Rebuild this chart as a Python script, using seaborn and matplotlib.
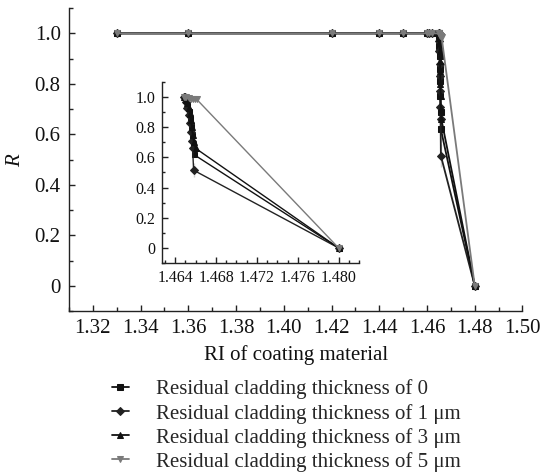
import matplotlib
matplotlib.use("Agg")
import matplotlib.pyplot as plt
import seaborn as sns
import pandas as pd
from matplotlib.ticker import MultipleLocator, FixedLocator

sns.set_theme(style="white")
plt.rcParams['font.family'] = ['Liberation Serif', 'DejaVu Serif']
plt.rcParams['mathtext.fontset'] = 'custom'
plt.rcParams['mathtext.it'] = 'Liberation Serif:italic'

# ---- data ----
ri_flat = [1.33, 1.36, 1.42, 1.44, 1.45, 1.46, 1.461, 1.462, 1.4649, 1.465]
r_flat = [1.0, 1.0, 1.0, 1.0, 1.0, 1.0, 1.0, 1.0, 1.0, 1.0]

ri_d0 = [1.4651, 1.4652, 1.4653, 1.4654, 1.4655, 1.4656, 1.4657, 1.4658, 1.48]
r_d0 = [0.98, 0.95, 0.91, 0.86, 0.81, 0.75, 0.69, 0.62, 0.0]

ri_d1 = [1.4651, 1.4652, 1.4653, 1.4654, 1.4655, 1.4656, 1.4657, 1.4658, 1.4658, 1.48]
r_d1 = [0.97, 0.93, 0.88, 0.83, 0.77, 0.71, 0.66, 0.56, 0.47, 0.0]

ri_d3 = [1.4651, 1.4652, 1.4653, 1.4654, 1.4655, 1.4656, 1.4657, 1.4658, 1.4660, 1.48]
r_d3 = [0.98, 0.96, 0.93, 0.89, 0.85, 0.80, 0.75, 0.70, 0.66, 0.0]

ri_d5 = [1.4651, 1.4653, 1.4655, 1.4657, 1.4659, 1.4661, 1.48]
r_d5 = [1.0, 0.995, 0.99, 0.99, 0.988, 0.985, 0.0]

labels = ["Residual cladding thickness of 0",
          "Residual cladding thickness of 1 μm",
          "Residual cladding thickness of 3 μm",
          "Residual cladding thickness of 5 μm"]
series_x = [ri_flat + ri_d0, ri_flat + ri_d1, ri_flat + ri_d3, ri_flat + ri_d5]
series_y = [r_flat + r_d0, r_flat + r_d1, r_flat + r_d3, r_flat + r_d5]

inset_min_ri = 1.4645

markers = ["s", "D", "^", "v"]
msizes = [4, 4, 5, 5]
colors = ["#111111", "#222222", "#111111", "#7a7a7a"]

fig = plt.figure(figsize=(5.5, 4.75), dpi=100)
ax = fig.add_axes([0.1255, 0.345, 0.8245, 0.638])
axin = fig.add_axes([0.2945, 0.4463, 0.3582, 0.3811])


def draw(a, ms_scale=1.0, lw=1.0, xmin=None):
    for xs, ys, lab, m, ms, c in zip(series_x, series_y, labels, markers, msizes, colors):
        df = pd.DataFrame({"RI": xs, "R": ys})
        if xmin is not None:
            df = df[df["RI"] >= xmin]
        sns.lineplot(data=df, x="RI", y="R", sort=False, ax=a, color=c,
                     marker=m, markersize=ms * ms_scale, markeredgecolor=c,
                     linewidth=lw, label=lab, legend=False)


draw(ax, lw=1.3)
draw(axin, 0.9, lw=1.0, xmin=inset_min_ri)

for a in (ax, axin):
    for s in ("top", "right"):
        a.spines[s].set_visible(False)
    for s in ("left", "bottom"):
        a.spines[s].set_color("#222222")
        a.spines[s].set_linewidth(1.0)
    a.set_xlabel("")
    a.set_ylabel("")

# main axes
ax.set_xlim(1.31, 1.50)
ax.set_ylim(-0.1, 1.1)
ax.xaxis.set_major_locator(FixedLocator([1.32 + 0.02 * i for i in range(10)]))
ax.set_xticklabels([f"{1.32 + 0.02 * i:.2f}" for i in range(10)])
ax.xaxis.set_minor_locator(MultipleLocator(0.01))
ax.yaxis.set_major_locator(FixedLocator([0, 0.2, 0.4, 0.6, 0.8, 1.0]))
ax.set_yticklabels(["0", "0.2", "0.4", "0.6", "0.8", "1.0"])
ax.yaxis.set_minor_locator(MultipleLocator(0.1))
ax.tick_params(which="both", direction="in", color="#222222", labelsize=15,
               bottom=True, left=True, labelcolor="#111111")
ax.tick_params(which="major", length=4, width=1, pad=6)
ax.tick_params(which="minor", length=3, width=1)
ax.set_xlabel("RI of coating material", fontsize=15, color="#111111", labelpad=5)
ax.set_ylabel("$R$", fontsize=15, color="#111111", labelpad=7)

# inset
axin.set_xlim(1.4627, 1.482)
axin.set_ylim(-0.1, 1.1)
axin.xaxis.set_major_locator(FixedLocator([1.464, 1.468, 1.472, 1.476, 1.480]))
axin.set_xticklabels(["1.464", "1.468", "1.472", "1.476", "1.480"])
axin.xaxis.set_minor_locator(MultipleLocator(0.001))
axin.yaxis.set_major_locator(FixedLocator([0, 0.2, 0.4, 0.6, 0.8, 1.0]))
axin.set_yticklabels(["0", "0.2", "0.4", "0.6", "0.8", "1.0"])
axin.yaxis.set_minor_locator(MultipleLocator(0.1))
axin.tick_params(which="both", direction="in", color="#222222", labelsize=11.5,
                 bottom=True, left=True, labelcolor="#111111")
axin.tick_params(which="major", length=4, width=1, pad=5)
axin.tick_params(which="minor", length=2.5, width=1)
axin.patch.set_alpha(0)

handles, labs = ax.get_legend_handles_labels()
fig.legend(handles, labs, loc="upper left", bbox_to_anchor=(0.2036, 0.201),
           frameon=False, fontsize=15, handlelength=0.8, handletextpad=1.3,
           labelspacing=0.2, borderaxespad=0, borderpad=0)

fig.savefig("out.png", dpi=100)
